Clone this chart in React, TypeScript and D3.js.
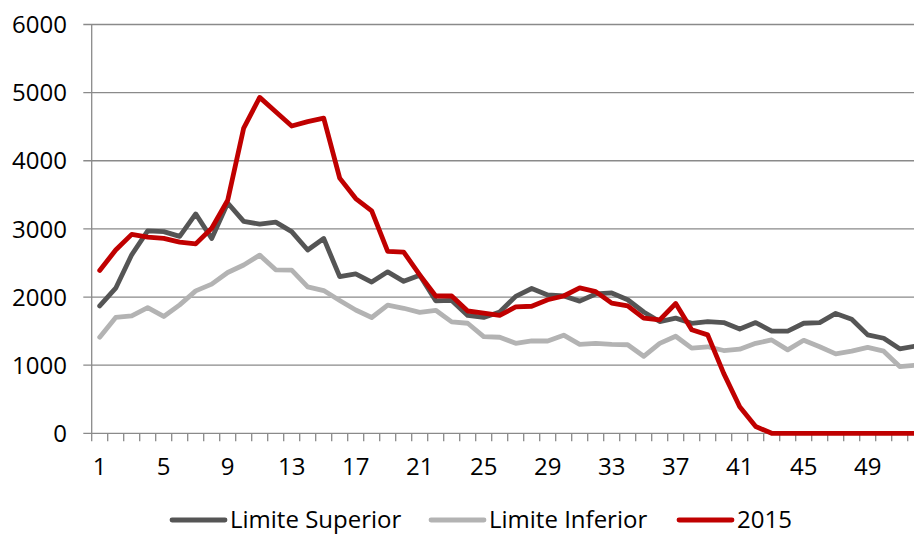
import { useEffect, useRef } from "react";
import * as d3 from "d3";

const weeks = d3.range(1, 53);

const limiteSuperior = [
  1870, 2130, 2620, 2970, 2960, 2890, 3220, 2860, 3380, 3110, 3070, 3100, 2960,
  2690, 2860, 2300, 2340, 2220, 2370, 2230, 2320, 1945, 1950, 1730, 1700, 1780,
  2010, 2125, 2030, 2015, 1940, 2045, 2060, 1960, 1780, 1640, 1690, 1615, 1640,
  1625, 1530, 1625, 1500, 1500, 1615, 1625, 1760, 1675, 1445, 1395, 1240, 1280,
];

const limiteInferior = [
  1410, 1700, 1725, 1845, 1715, 1885, 2090, 2190, 2360, 2470, 2615, 2400, 2395,
  2150, 2095, 1950, 1810, 1700, 1880, 1835, 1775, 1805, 1635, 1615, 1420, 1410,
  1320, 1355, 1355, 1440, 1305, 1320, 1305, 1300, 1130, 1320, 1425, 1250, 1270,
  1215, 1235, 1320, 1370, 1225, 1365, 1270, 1165, 1205, 1260, 1205, 980, 1000,
];

const values2015 = [
  2390, 2690, 2920, 2880, 2860, 2805, 2780, 3010, 3420, 4480, 4930, 4720, 4510,
  4575, 4625, 3745, 3445, 3265, 2670, 2660, 2325, 2015, 2015, 1795, 1765, 1730,
  1855, 1865, 1960, 2015, 2135, 2080, 1910, 1870, 1690, 1665, 1905, 1520, 1445,
  880, 390, 100, 0, 0, 0, 0, 0, 0, 0, 0, 0, 0,
];

const xTickLabels = [1, 5, 9, 13, 17, 21, 25, 29, 33, 37, 41, 45, 49];
const yTicks = [0, 1000, 2000, 3000, 4000, 5000, 6000];

const series = [
  { name: "Limite Superior", values: limiteSuperior, color: "#555555" },
  { name: "Limite Inferior", values: limiteInferior, color: "#b3b3b3" },
  { name: "2015", values: values2015, color: "#c00000" },
];

export default function App() {
  const svgRef = useRef<SVGSVGElement>(null);

  useEffect(() => {
    if (!svgRef.current) return;
    const svg = d3.select(svgRef.current);
    svg.selectAll("*").remove();

    const left = 91.7;
    const top = 24.5;
    const bottom = 433.3;
    const right = 914;
    const font = "'Open Sans', sans-serif";
    const fontSize = 24;
    const axisColor = "#8a8a8a";
    const textColor = "#000000";

    const x = d3
      .scaleBand<number>()
      .domain(weeks)
      .range([left, left + 16 * weeks.length])
      .paddingInner(0)
      .paddingOuter(0);
    const cx = (w: number) => x(w)! + x.bandwidth() / 2;

    const y = d3.scaleLinear().domain([0, 6000]).range([bottom, top]);

    // Grid lines + y ticks
    svg
      .append("g")
      .selectAll("line")
      .data(yTicks)
      .join("line")
      .attr("x1", left - 8.4)
      .attr("x2", right)
      .attr("y1", (d) => y(d))
      .attr("y2", (d) => y(d))
      .attr("stroke", axisColor)
      .attr("stroke-width", 1.3);

    // Y axis line
    svg
      .append("line")
      .attr("x1", left)
      .attr("x2", left)
      .attr("y1", y(6000))
      .attr("y2", bottom + 8)
      .attr("stroke", axisColor)
      .attr("stroke-width", 1.3);

    // Y labels
    svg
      .append("g")
      .selectAll("text")
      .data(yTicks)
      .join("text")
      .attr("x", 67)
      .attr("y", (d) => y(d))
      .attr("dy", "0.36em")
      .attr("text-anchor", "end")
      .attr("font-family", font)
      .attr("font-size", fontSize)
      .attr("fill", textColor)
      .text((d) => d);

    // X tick marks at band edges
    svg
      .append("g")
      .selectAll("line")
      .data(weeks)
      .join("line")
      .attr("x1", (d) => x(d)! + x.bandwidth())
      .attr("x2", (d) => x(d)! + x.bandwidth())
      .attr("y1", bottom)
      .attr("y2", bottom + 8)
      .attr("stroke", axisColor)
      .attr("stroke-width", 1.3);

    // X labels
    svg
      .append("g")
      .selectAll("text")
      .data(xTickLabels)
      .join("text")
      .attr("x", (d) => cx(d))
      .attr("y", 475)
      .attr("text-anchor", "middle")
      .attr("font-family", font)
      .attr("font-size", fontSize)
      .attr("fill", textColor)
      .text((d) => d);

    // Lines
    const line = d3
      .line<number>()
      .x((_, i) => cx(weeks[i]))
      .y((d) => y(d));

    series.forEach((s) => {
      svg
        .append("path")
        .datum(s.values)
        .attr("fill", "none")
        .attr("stroke", s.color)
        .attr("stroke-width", 4.8)
        .attr("stroke-linejoin", "round")
        .attr("stroke-linecap", "round")
        .attr("d", line);
    });

    // Legend (kept just inside the bottom edge)
    const legendX = [172, 431, 679];
    const legend = svg
      .append("g")
      .selectAll("g")
      .data(series)
      .join("g")
      .attr("transform", (_, i) => `translate(${legendX[i]},520)`);
    legend
      .append("line")
      .attr("x1", 0)
      .attr("x2", 53)
      .attr("stroke", (d) => d.color)
      .attr("stroke-width", 4.8)
      .attr("stroke-linecap", "round");
    legend
      .append("text")
      .attr("x", 58)
      .attr("y", 8)
      .attr("font-family", font)
      .attr("font-size", fontSize)
      .attr("fill", textColor)
      .text((d) => d.name);
  }, []);

  return (
    <div style={{ position: "fixed", left: 0, top: 0, background: "#fff" }}>
      <svg ref={svgRef} width={914} height={535} style={{ display: "block" }} />
    </div>
  );
}
